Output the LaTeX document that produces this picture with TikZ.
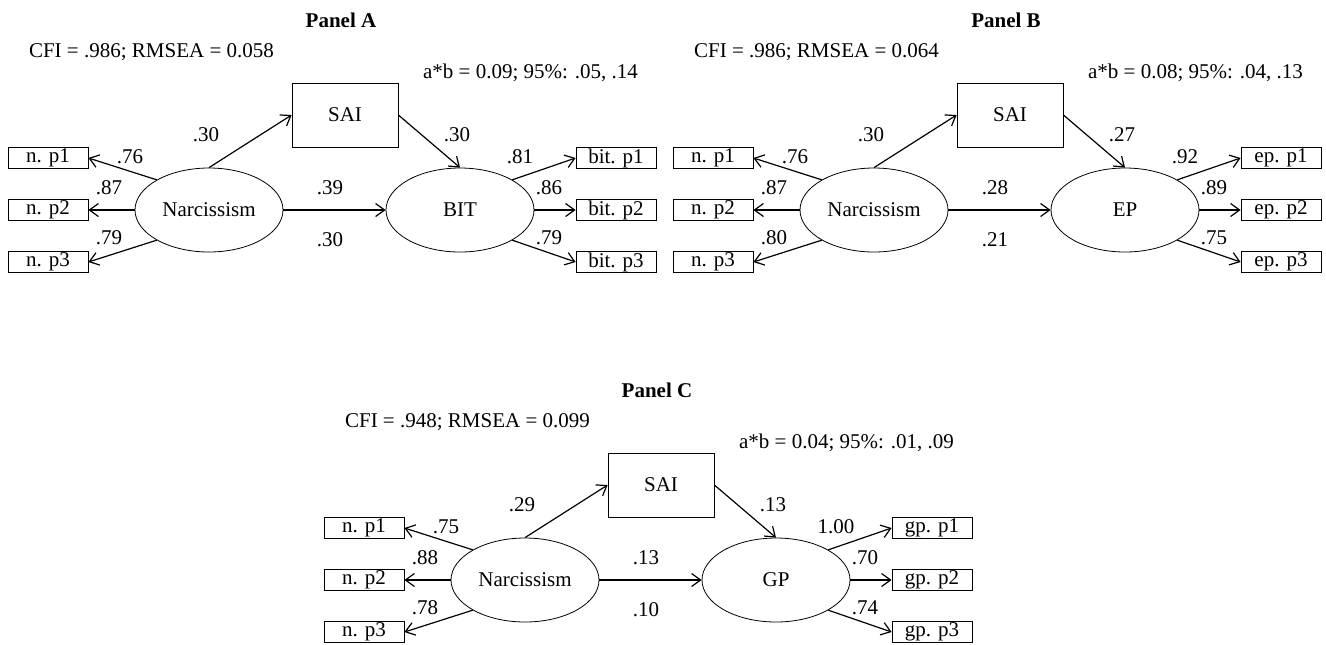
\documentclass[tikz,border=0pt]{standalone}
\usepackage{fontspec}
\setmainfont{Liberation Serif}
\usetikzlibrary{arrows.meta, shapes.geometric}

\begin{document}
\begin{tikzpicture}[x=0.5pt, y=-0.5pt, font=\fontsize{10.5}{12}\selectfont,
    latent/.style={draw, ellipse, minimum width=74pt, minimum height=42pt, inner sep=0pt},
    mbox/.style={draw, minimum width=53pt, minimum height=32pt},
    ibox/.style={draw, minimum width=40pt, minimum height=10.5pt, inner sep=0pt},
    coef/.style={inner sep=0pt},
    arr/.style={-{Straight Barb[length=4.5pt, width=6.5pt]}, line width=0.6pt}]
    \useasboundingbox (0,0) rectangle (1326,644);
    \foreach \px/\py/\pn/\cfi/\ab/\dv/\ip/\la/\lb/\lc/\ca/\cb/\cc/\cd/\ra/\rb/\rc in {
        0/0/A/{.986; RMSEA = 0.058}/{0.09; 95\%: .05, .14}/BIT/bit/.76/.87/.79/.30/.30/.39/.30/.81/.86/.79,
        665/0/B/{.986; RMSEA = 0.064}/{0.08; 95\%: .04, .13}/EP/ep/.76/.87/.80/.30/.27/.28/.21/.92/.89/.75,
        316/370/C/{.948; RMSEA = 0.099}/{0.04; 95\%: .01, .09}/GP/gp/.75/.88/.78/.29/.13/.13/.10/1.00/.70/.74} {
    \begin{scope}[shift={(\px,\py)}]
      \node (title\pn) at (341,20) {\bfseries Panel \pn};
      \node[anchor=west] (fit\pn) at (22,52) {CFI = \cfi};
      \node[anchor=east] (ab\pn) at (645,73) {a*b = \ab};
      \node[mbox] (sai\pn) at (345,115) {SAI};
      \node[latent] (nar\pn) at (209,210) {Narcissism};
      \node[latent] (dv\pn) at (460,210) {\dv};
      \node[ibox] (n1\pn) at (48,158) {n. p1};
      \node[ibox] (n2\pn) at (48,210) {n. p2};
      \node[ibox] (n3\pn) at (48,262) {n. p3};
      \node[ibox] (o1\pn) at (616,158) {\ip. p1};
      \node[ibox] (o2\pn) at (616,210) {\ip. p2};
      \node[ibox] (o3\pn) at (616,262) {\ip. p3};
      \draw[arr] (nar\pn.north) -- (sai\pn.west);
      \draw[arr] (sai\pn.east) -- (dv\pn.north);
      \draw[arr] (nar\pn) -- (dv\pn);
      \draw[arr] (nar\pn.150) -- (n1\pn.east);
      \draw[arr] (nar\pn.west) -- (n2\pn.east);
      \draw[arr] (nar\pn.210) -- (n3\pn.east);
      \draw[arr] (dv\pn.30) -- (o1\pn.west);
      \draw[arr] (dv\pn.east) -- (o2\pn.west);
      \draw[arr] (dv\pn.-30) -- (o3\pn.west);
      % coefficients
      \node[coef] (ca\pn) at (206,135) {\ca};
      \node[coef] (cb\pn) at (457,135) {\cb};
      \node[coef] (cc\pn) at (330,188) {\cc};
      \node[coef] (cd\pn) at (330,240) {\cd};
      \node[coef] (la\pn) at (130,157) {\la};
      \node[coef] (lb\pn) at (109,188) {\lb};
      \node[coef] (lc\pn) at (109,238) {\lc};
      \node[coef] (ra\pn) at (520,157) {\ra};
      \node[coef] (rb\pn) at (549,188) {\rb};
      \node[coef] (rc\pn) at (549,238) {\rc};
    \end{scope}
    }
\end{tikzpicture}
\end{document}
